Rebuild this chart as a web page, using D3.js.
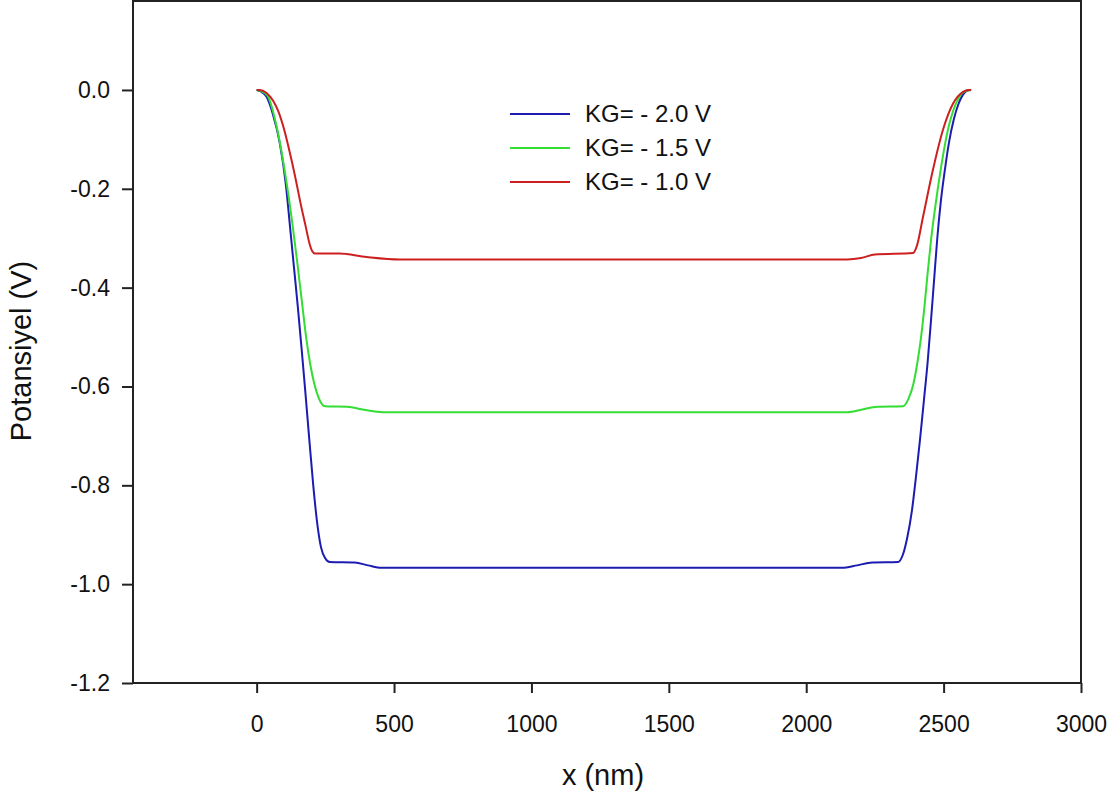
<!DOCTYPE html>
<html>
<head>
<meta charset="utf-8">
<script src="https://d3js.org/d3.v7.min.js"></script>
<style>
  body { margin: 0; background: #fff; }
  svg { display: block; font-family: "Liberation Sans", Arial, sans-serif; }
</style>
</head>
<body>
<svg id="drawing_region"></svg>
<script>
// x (nm) / potential (V) samples
const x_kg20 = [0, 15, 36, 58, 84, 106, 122, 136, 150, 163, 177, 192, 206, 220, 234, 250, 266, 357, 405, 455,
                2130, 2185, 2240, 2335, 2352, 2368, 2385, 2400, 2414, 2428, 2442, 2455, 2466, 2477, 2490, 2505, 2520, 2537, 2553, 2570, 2587, 2600];
const y_kg20 = [0, -0.003, -0.014, -0.047, -0.107, -0.19, -0.28, -0.36, -0.44, -0.52, -0.61, -0.71, -0.80, -0.875, -0.925, -0.948, -0.955, -0.956, -0.962, -0.967,
                -0.967, -0.962, -0.956, -0.955, -0.94, -0.905, -0.85, -0.78, -0.708, -0.63, -0.55, -0.46, -0.38, -0.30, -0.225, -0.16, -0.105, -0.06, -0.03, -0.01, -0.001, 0];

const x_kg15 = [0, 15, 40, 73, 109, 130, 148, 165, 180, 195, 210, 225, 238, 250, 330, 390, 460,
                2150, 2200, 2260, 2352, 2372, 2390, 2405, 2418, 2430, 2442, 2455, 2470, 2487, 2505, 2525, 2545, 2565, 2585, 2600];
const y_kg15 = [0, -0.002, -0.012, -0.075, -0.188, -0.27, -0.35, -0.43, -0.50, -0.555, -0.595, -0.622, -0.636, -0.640, -0.641, -0.647, -0.652,
                -0.652, -0.647, -0.641, -0.640, -0.625, -0.595, -0.55, -0.50, -0.44, -0.37, -0.30, -0.235, -0.17, -0.11, -0.06, -0.027, -0.008, -0.001, 0];

const x_kg10 = [0, 10, 36, 60, 80, 100, 120, 140, 160, 178, 192, 202, 212, 300, 400, 520,
                2150, 2200, 2250, 2389, 2403, 2425, 2461, 2498, 2534, 2571, 2590, 2600];
const y_kg10 = [0, 0, -0.006, -0.022, -0.045, -0.08, -0.125, -0.175, -0.23, -0.275, -0.31, -0.326, -0.331, -0.331, -0.338, -0.343,
                -0.343, -0.34, -0.333, -0.330, -0.315, -0.257, -0.162, -0.08, -0.028, -0.004, 0, 0];

const series_names = ["KG= - 2.0 V", "KG= - 1.5 V", "KG= - 1.0 V"];
const series_colors = ["#1c1cb0", "#33dd33", "#cc2020"];

const x_ticks = [0, 500, 1000, 1500, 2000, 2500, 3000];
const y_ticks = [0.0, -0.2, -0.4, -0.6, -0.8, -1.0, -1.2];

const zip = (xs, ys) => xs.map((x, i) => ({x: x, y: ys[i]}));
const series = [
    {name: series_names[0], color: series_colors[0], values: zip(x_kg20, y_kg20)},
    {name: series_names[1], color: series_colors[1], values: zip(x_kg15, y_kg15)},
    {name: series_names[2], color: series_colors[2], values: zip(x_kg10, y_kg10)}
];

const width = 1118, height = 803;
const margin = {top: 1, right: 37, bottom: 120, left: 133};
const inner_width = width - margin.left - margin.right;
const inner_height = height - margin.top - margin.bottom;

const svg = d3.select('#drawing_region')
    .attr('width', width)
    .attr('height', height);

const chart = svg.append('g')
    .attr('transform', `translate(${margin.left}, ${margin.top})`);

const xscale = d3.scaleLinear()
    .domain([-450, 3000])
    .range([0, inner_width]);

const yscale = d3.scaleLinear()
    .domain([-1.2, 0.18])
    .range([inner_height, 0]);

// frame
chart.append('rect')
    .attr('x', 0).attr('y', 0)
    .attr('width', inner_width).attr('height', inner_height)
    .attr('fill', 'none')
    .attr('stroke', '#222')
    .attr('stroke-width', 2);

const xaxis = d3.axisBottom(xscale)
    .tickValues(x_ticks)
    .tickFormat(d3.format('d'))
    .tickSize(10)
    .tickPadding(23)
    .tickSizeOuter(0);

const yaxis = d3.axisLeft(yscale)
    .tickValues(y_ticks)
    .tickSize(11)
    .tickPadding(12)
    .tickSizeOuter(0);

const xaxis_group = chart.append('g')
    .attr('transform', `translate(0, ${inner_height})`)
    .call(xaxis);

const yaxis_group = chart.append('g')
    .call(yaxis);

[xaxis_group, yaxis_group].forEach(g => {
    g.select('.domain').remove();
    g.selectAll('line').attr('stroke', '#222').attr('stroke-width', 2);
    g.selectAll('text')
        .attr('fill', '#111')
        .attr('font-size', '23px')
        .attr('font-family', '"Liberation Sans", Arial, sans-serif');
});
yaxis_group.selectAll('text').text(d => d3.format('.1f')(d).replace('\u2212', '-'));

const line = d3.line()
    .x(d => xscale(d.x))
    .y(d => yscale(d.y))
    .curve(d3.curveMonotoneX);

chart.selectAll('.series')
    .data(series)
    .enter()
    .append('path')
    .attr('class', 'series')
    .attr('d', d => line(d.values))
    .attr('fill', 'none')
    .attr('stroke', d => d.color)
    .attr('stroke-width', 2);

// legend
const legend = svg.append('g')
    .attr('transform', 'translate(510, 114)');

const legend_items = legend.selectAll('g')
    .data(series)
    .enter()
    .append('g')
    .attr('transform', (d, i) => `translate(0, ${i * 34})`);

legend_items.append('line')
    .attr('x1', 0).attr('x2', 60)
    .attr('y1', 0).attr('y2', 0)
    .attr('stroke', d => d.color)
    .attr('stroke-width', 2);

legend_items.append('text')
    .attr('x', 75)
    .attr('y', 8)
    .attr('font-size', '24px')
    .attr('fill', '#111')
    .text(d => d.name);

// axis titles
svg.append('text')
    .attr('x', 603)
    .attr('y', 785)
    .attr('text-anchor', 'middle')
    .attr('font-size', '29px')
    .attr('fill', '#111')
    .text('x (nm)');

svg.append('text')
    .attr('transform', 'rotate(-90)')
    .attr('x', -351)
    .attr('y', 31)
    .attr('text-anchor', 'middle')
    .attr('font-size', '29px')
    .attr('fill', '#111')
    .text('Potansiyel (V)');
</script>
</body>
</html>
